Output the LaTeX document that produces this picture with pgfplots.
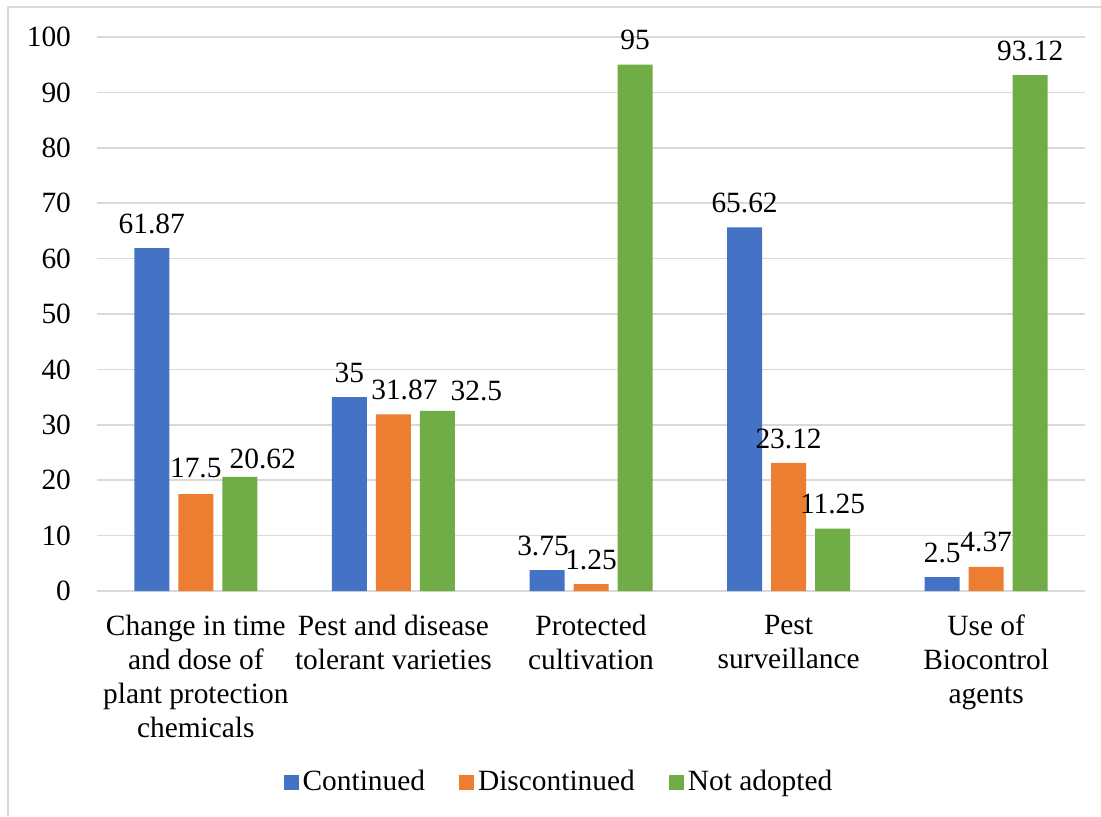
\documentclass[border=0pt]{standalone}
\usepackage{fontspec}
\setmainfont{Liberation Serif}
\usepackage{pgfplots}
\usepackage{pgfplotstable}
\pgfplotsset{compat=1.18}
\definecolor{cCont}{HTML}{4472C4}
\definecolor{cDisc}{HTML}{ED7D31}
\definecolor{cNot}{HTML}{70AD47}
\definecolor{gridc}{HTML}{D9D9D9}
\newcommand{\chartfont}{\fontsize{14.7}{17}\selectfont}
% x, value, label offsets (pt)
\pgfplotstableread{
x  y      dx    dy
0  61.87  0     0
1  35     0     0
2  3.75   -2    0
3  65.62  0     0
4  2.5    0     0
}\continued
\pgfplotstableread{
x  y      dx    dy
0  17.5   0     1
1  31.87  5.5   0
2  1.25   0     0
3  23.12  0     0
4  4.37   0     0
}\discontinued
\pgfplotstableread{
x  y      dx    dy
0  20.62  11.5  -3.5
1  32.5   19.5  -2
2  95     0     0
3  11.25  0     0
4  93.12  0     0
}\notadopted
\begin{document}
\begin{tikzpicture}
\useasboundingbox (-48.5pt,-112.5pt) rectangle (502pt,295.5pt);
% outer chart frame (left and top edges)
\draw[gridc, line width=0.8pt] (-44.5pt,-112.5pt) -- (-44.5pt,292pt) -- (502pt,292pt);
\begin{axis}[
  at={(0pt,0pt)}, anchor=south west,
  scale only axis, width=494pt, height=277pt,
  ybar=4.5pt, bar width=17.5pt,
  xmin=-0.5, xmax=4.5, ymin=0, ymax=100,
  xtick={0,1,2,3,4},
  xticklabels={{Change in time\\and dose of\\plant protection\\chemicals},
               {Pest and disease\\tolerant varieties},
               {Protected\\cultivation},
               {Pest\\surveillance},
               {Use of\\Biocontrol\\agents}},
  ytick={0,10,...,100},
  major tick length=0pt,
  axis x line*=bottom, axis y line*=left,
  x axis line style={draw=gridc, line width=0.8pt},
  y axis line style={draw=none},
  ymajorgrids, grid style={draw=gridc, line width=0.8pt},
  clip=false,
  font=\chartfont,
  /pgf/number format/assume math mode=true,
  ticklabel style={font=\chartfont},
  yticklabel style={xshift=-9.5pt},
  xticklabel style={align=center, yshift=-8.5pt},
  nodes near coords,
  visualization depends on={\thisrow{dx} \as \labdx},
  visualization depends on={\thisrow{dy} \as \labdy},
  every node near coord/.append style={font=\chartfont, black,
    xshift=\labdx pt, yshift=3.7pt+\labdy pt},
  legend style={draw=none, at={(0.4686,-0.345)}, anchor=center,
    legend columns=3, font=\chartfont,
    /tikz/every even column/.append style={column sep=15pt}},
  legend image code/.code={\fill[#1] (0pt,-3.75pt) rectangle (7.5pt,3.75pt);},
]
\addplot[fill=cCont, draw=none] table[x=x, y=y] {\continued};
\addplot[fill=cDisc, draw=none] table[x=x, y=y] {\discontinued};
\addplot[fill=cNot, draw=none] table[x=x, y=y] {\notadopted};
\legend{Continued, Discontinued, Not adopted}
\end{axis}
\end{tikzpicture}
\end{document}
